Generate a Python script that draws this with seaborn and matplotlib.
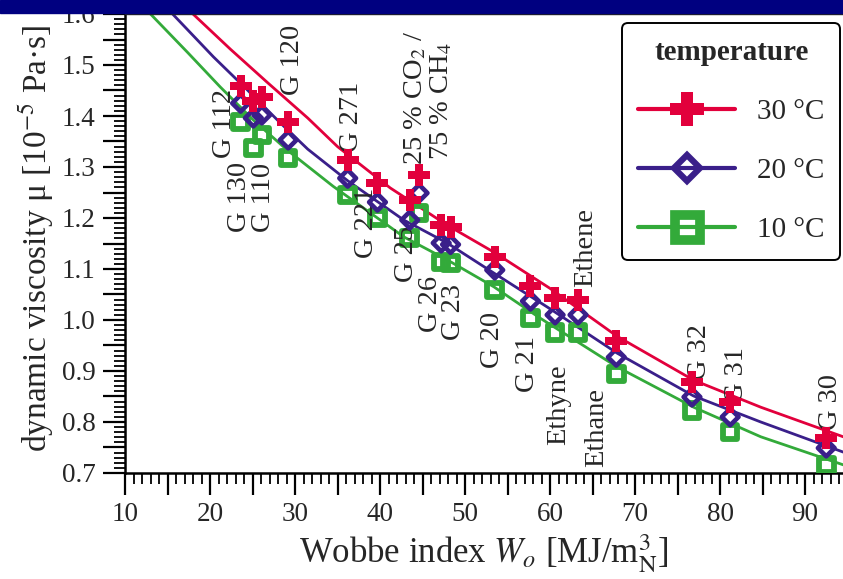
import numpy as np
import pandas as pd
import seaborn as sns
import matplotlib.pyplot as plt
from matplotlib.lines import Line2D
from matplotlib.patches import Rectangle
from matplotlib.ticker import MultipleLocator, FuncFormatter

# gases and Wobbe index
gases = ['G 112', 'G 130', 'G 110', 'G 120', 'G 271', 'G 221', '25 % CO$_2$ /', 'G 25', 'G 26',
         'G 23', 'G 20', 'G 21', 'Ethyne', 'Ethene', 'Ethane', 'G 32', 'G 31', 'G 30']
wobbe = [23.6, 25.1, 26.1, 29.2, 36.2, 39.7, 44.6, 43.5, 47.2, 48.3, 53.5, 57.7, 60.6, 63.3, 67.8, 76.7, 81.2, 92.5]

# measured viscosity [1e-5 Pa s]
mu_30 = [1.459, 1.430, 1.437, 1.388, 1.314, 1.269, 1.284, 1.235, 1.186, 1.182, 1.124, 1.067, 1.043, 1.039, 0.959, 0.878, 0.839, 0.769]
mu_20 = [1.425, 1.396, 1.402, 1.353, 1.278, 1.231, 1.249, 1.196, 1.151, 1.148, 1.098, 1.037, 1.010, 1.010, 0.927, 0.849, 0.810, 0.749]
mu_10 = [1.388, 1.337, 1.363, 1.318, 1.245, 1.200, 1.210, 1.161, 1.114, 1.112, 1.059, 1.004, 0.975, 0.975, 0.894, 0.822, 0.780, 0.716]

# fitted curves
fit30_x = [18.0, 22.4, 26.8, 31.5, 35.0, 41.2, 47.9, 53.4, 60.0, 67.9, 76.9, 84.8, 94.5]
fit30_y = [1.600, 1.531, 1.465, 1.396, 1.340, 1.259, 1.186, 1.133, 1.062, 0.968, 0.882, 0.829, 0.771]
fit20_x = [15.6, 20.4, 24.4, 28.3, 31.5, 36.2, 42.8, 47.9, 53.4, 60.0, 67.9, 76.9, 84.8, 94.5]
fit20_y = [1.600, 1.516, 1.451, 1.386, 1.335, 1.273, 1.196, 1.151, 1.092, 1.022, 0.935, 0.851, 0.800, 0.741]
fit10_x = [13.0, 17.4, 21.2, 25.1, 29.1, 34.5, 42.8, 47.9, 53.4, 58.9, 67.9, 76.9, 84.8, 94.5]
fit10_y = [1.600, 1.524, 1.457, 1.392, 1.333, 1.262, 1.163, 1.118, 1.065, 1.003, 0.908, 0.829, 0.771, 0.716]

# label text and where it sits (bottom centre of the rotated text)
labels = ['G 112', 'G 130', 'G 110', 'G 120', 'G 271', 'G 221', '25 % CO$_2$ /', '75 % CH$_4$', 'G 25',
          'G 26', 'G 23', 'G 20', 'G 21', 'Ethyne', 'Ethane', 'Ethene', 'G 32', 'G 31', 'G 30']
label_x = [21.7, 23.5, 26.35, 29.65, 36.7, 38.4, 44.2, 47.3, 43.1, 45.9, 48.6, 53.2, 57.4, 61.0, 65.5, 64.2, 77.6, 81.9, 93.0]
label_y = [1.318, 1.173, 1.173, 1.441, 1.329, 1.122, 1.304, 1.314, 1.075, 0.976, 0.961, 0.906, 0.859, 0.755, 0.712, 1.065, 0.882, 0.837, 0.785]

red = '#e2003c'
blue = '#3a1f8a'
green = '#33aa3a'

sns.set_theme(style='ticks')
plt.rcParams['font.family'] = ['Liberation Serif', 'DejaVu Serif']
plt.rcParams['mathtext.fontset'] = 'stix'

fig = plt.figure(figsize=(8.43, 5.79), dpi=100)
ax = fig.add_axes([125 / 843, 106 / 579, 718 / 843, 459 / 579])

# curves
sns.lineplot(x=fit30_x, y=fit30_y, color=red, linewidth=2.0, ax=ax)
sns.lineplot(x=fit20_x, y=fit20_y, color=blue, linewidth=2.0, ax=ax)
sns.lineplot(x=fit10_x, y=fit10_y, color=green, linewidth=2.0, ax=ax)

# measured points
sns.scatterplot(x=wobbe, y=mu_10, marker='s', s=10.5 ** 2, facecolors='none', edgecolor=green,
                linewidth=4.2, ax=ax, zorder=3)
sns.scatterplot(x=wobbe, y=mu_20, marker='D', s=8.5 ** 2, facecolors='none', edgecolor=blue,
                linewidth=3.3, ax=ax, zorder=4)
sns.scatterplot(x=wobbe, y=mu_30, marker='P', s=15.5 ** 2, color=red, linewidth=0, ax=ax, zorder=5)

for txt, lx, ly in zip(labels, label_x, label_y):
    ax.text(lx, ly, txt, rotation=90, ha='center', va='bottom', fontsize=20.5)

ax.set_xlim(10, 10 + 718 / 8.5)
ax.set_ylim(0.7, 1.6)

ax.xaxis.set_major_locator(MultipleLocator(5))
ax.xaxis.set_minor_locator(MultipleLocator(1))
ax.yaxis.set_major_locator(MultipleLocator(0.05))
ax.yaxis.set_minor_locator(MultipleLocator(0.01))
ax.xaxis.set_major_formatter(FuncFormatter(lambda v, p: f'{v:.0f}' if round(v) % 10 == 0 else ''))
ax.yaxis.set_major_formatter(FuncFormatter(lambda v, p: f'{v:.1f}' if round(v * 100) % 10 == 0 else ''))

ax.tick_params(which='major', direction='out', length=16, width=1.6, labelsize=19.5, pad=5, color='black')
ax.tick_params(which='minor', direction='out', length=8, width=1.3, color='black')
ax.tick_params(top=False, right=False, which='both')

for side in ['left', 'bottom']:
    ax.spines[side].set_linewidth(1.8)
    ax.spines[side].set_color('black')
ax.spines['top'].set_linewidth(1.0)
ax.spines['top'].set_color('#222222')
ax.spines['right'].set_visible(False)

ax.set_xlabel(r'Wobbe index $W_o$ [MJ/m$_\mathrm{N}^3$]', fontsize=25)
ax.set_ylabel(r'dynamic viscosity μ [10$^{-5}$ Pa·s]', fontsize=24)
ax.xaxis.set_label_coords(0.5, -0.13)
ax.yaxis.set_label_coords(-0.095, 0.51)

handles = [
    Line2D([], [], color=red, lw=3, marker='P', ms=24, mew=0),
    Line2D([], [], color=blue, lw=3, marker='D', ms=13, mfc='none', mew=4.5),
    Line2D([], [], color=green, lw=3, marker='s', ms=18, mfc='none', mew=7),
]
leg = ax.legend(handles, ['30 °C', '20 °C', '10 °C'], title='temperature', loc='upper right',
                bbox_to_anchor=(0.996, 0.98), borderaxespad=0, fontsize=21, title_fontsize=21,
                handlelength=3.3, handletextpad=0.75, labelspacing=1.12, borderpad=0.55,
                frameon=True, fancybox=True, framealpha=1)
leg.get_title().set_fontweight('bold')
leg.get_frame().set_edgecolor('black')
leg.get_frame().set_linewidth(1.4)

# navy band across the top
fig.add_artist(Rectangle((0, 1 - 13 / 579), 1, 13 / 579, transform=fig.transFigure,
                         color='#000080', zorder=10))

fig.savefig('out.png', dpi=100)
